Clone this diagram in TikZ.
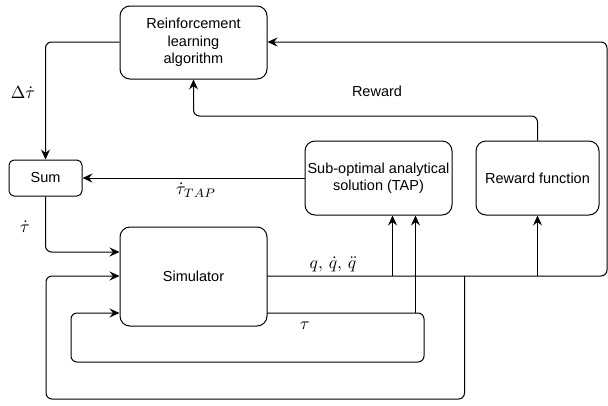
\documentclass[tikz,border=0pt]{standalone}
\usepackage{graphicx}
\usepackage{fontspec}
\setmainfont{Liberation Sans}
\usetikzlibrary{arrows.meta}
\newcommand{\mlbl}[1]{\scalebox{1.75}{$#1$}}
\begin{document}
\begin{tikzpicture}[x=1pt,y=-1pt,
  box/.style={draw,line width=1pt,rounded corners=10pt,align=center,inner sep=0pt,
    font=\fontsize{14.5}{17.5}\selectfont},
  conn/.style={line width=1pt,rounded corners=6pt},
  arr/.style={conn,-{Stealth[length=10pt,width=9pt,inset=3.5pt]}},
  lbl/.style={inner sep=0pt},
  txt/.style={font=\fontsize{14.5}{17.5}\selectfont,inner sep=0pt}]
\useasboundingbox (0,0) rectangle (608,405);
\node[box,minimum width=147pt,minimum height=73pt] (rl) at (193.5,42.5) {Reinforcement\\learning\\algorithm};
\node[box,rounded corners=5pt,minimum width=73pt,minimum height=36pt] (sum) at (45.5,178) {Sum};
\node[box,minimum width=147pt,minimum height=74pt] (tap) at (378.5,178) {Sub-optimal analytical\\solution (TAP)};
\node[box,minimum width=123pt,minimum height=74pt] (rf) at (537.5,178) {Reward function};
\node[box,minimum width=147pt,minimum height=99pt] (sim) at (193.5,276.5) {Simulator};
% coordinates
\coordinate (o1) at (267,276);
\coordinate (o2) at (267,313);
\coordinate (b1) at (392.5,276);
\coordinate (b2) at (537.5,276);
\coordinate (b3) at (464.5,276);
\coordinate (b4) at (415.5,313);
% connectors
\draw[arr] (rl.west |- 0,42) -| (sum.north);
\draw[arr] (rf.north) |- (193.5,116) -- (rl.south);
\draw[arr] (tap.west) -- (sum.east);
\draw[arr] (sum.south) |- (sim.west |- 0,252);
\draw[arr] (o1) -- (607,276) -- (607,42) -- (rl.east |- 0,42);
\draw[arr] (b1) -- (b1 |- tap.south);
\draw[arr] (b2) -- (rf.south);
\draw[arr] (b3) -- (464.5,399) -- (46,399) -- (46,276) -- (sim.west |- 0,276);
\draw[arr] (o2) -- (424,313) -- (424,362) -- (71,362) -- (71,313) -- (sim.west |- 0,313);
\draw[arr] (b4) -- (b4 |- tap.south);
% labels
\node[lbl] (l1) at (23,93) {\mlbl{\Delta\dot\tau}};
\node[txt] (l2) at (377,91) {Reward};
\node[lbl] (l3) at (196,190) {\mlbl{\dot\tau_{TAP}}};
\node[lbl] (l4) at (25,227) {\mlbl{\dot\tau}};
\node[lbl] (l5) at (333,264) {\mlbl{q,\,\dot q,\,\ddot q}};
\node[lbl] (l6) at (305,326) {\mlbl{\tau}};
\end{tikzpicture}
\end{document}
